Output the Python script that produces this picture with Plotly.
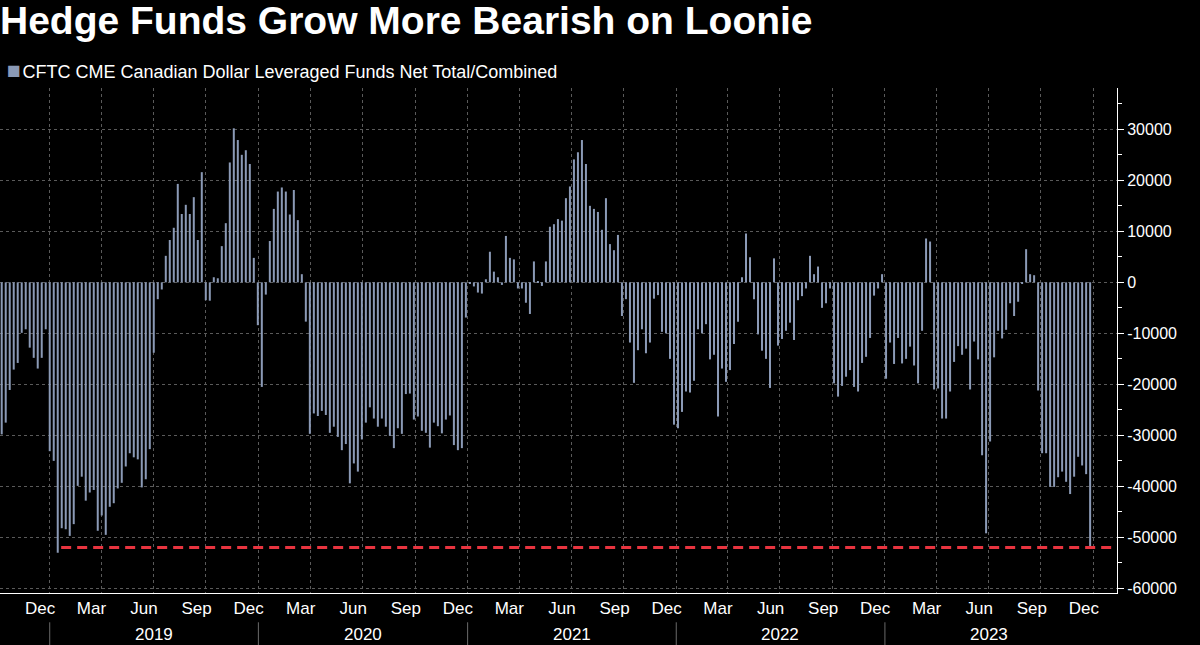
import pandas as pd
import plotly.graph_objects as go

# Weekly CFTC report dates (Tuesdays)
start_date = "2018-10-09"
n_weeks = 273

net_positions = [
    # 2018-10-09 ...
    -29800, -27500, -21100, -17100, -15800, -9900, -9200, -12800, -14800, -16900,
    -14800, -9200, -33100, -35000, -53000, -48200, -48400, -49700, -47400, -39900,
    -38100, -42800, -41200, -40700, -48700, -45700,
    -49500, -44000, -43300, -40400, -39300, -36100, -33500, -34300, -34700, -40200,
    -38600, -32700, -13800, -3300, -1400, 5200, 8300, 10700, 19300, 13400,
    15200, 13400, 16700, 8300, 21600,
    -3500, -3600, 1000, 800, 7100, 11600, 23500, 30200, 27900, 25000,
    25900, 23200, 4800, -8400, -20500, -2400, 8100, 14400, 17800, 18600,
    17800, 13300, 18100, 12200, 1600,
    -7700, -29700, -25700, -26200, -25200, -26000, -29500, -28300, -30300, -32900,
    -31700, -39400, -35500, -37100, -30800, -27500, -24500, -26700, -28300, -26700,
    -28300, -30100, -32500, -28600, -29700,
    -21900, -21800, -26900, -26300, -29100, -29500, -32400, -27500, -28200, -29600,
    -26900, -26100, -31900, -32900, -32500, -6900, -300, -800, -2000, -2200,
    600, 6000, 2100, 1000, -500,
    9100, 4800, 4500, -1200, -1200, -4000, -6200, 4100, 200, -700,
    4100, 10900, 11400, 12400, 12100, 16500, 18800, 24100, 25500, 27900,
    23200, 15000, 14400, 13800, 10300,
    16500, 7500, 6300, 9300, -6600, -3300, -11800, -19700, -13300, -9200,
    -13900, -11800, -3200, -2500, -9700, -10000, -15000, -27900, -28600, -25400,
    -21400, -21600, -19300, -9200, -10000,
    -8200, -15100, -14200, -26300, -16900, -19500, -17200, -12100, -7700, 1000,
    9600, 4900, -3300, -10200, -13400, -15000, -20700, 4700, -12400, -11100,
    -9500, -7900, -11300, -3500, -2700,
    -1200, 5200, 1600, 3100, -5000, -4100, -1200, -19800, -22400, -20300,
    -18500, -17200, -20500, -21400, -15800, -14600, -10900, -2600, -1200, 1600,
    -18900, -11800, -16000, -10900, -15900,
    -15000, -12600, -16300, -19800, -9500, 8600, 8000, -21000, -20800, -26700,
    -26700, -21400, -15600, -12500, -14200, -13000, -21000, -11600, -15100, -33900,
    -49200, -31200, -14700, -9500,
    -11000, -9300, -4100, -6600, -3800, -200, 6500, 1600, 1400, -21200,
    -33500, -33500, -40100, -40100, -38200, -37100, -39100, -41500, -38100, -34200,
    -35900, -37600, -52000,
]

series_name = "CFTC CME Canadian Dollar Leveraged Funds Net Total/Combined"
title_text = "Hedge Funds Grow More Bearish on Loonie"

month_labels = ["Dec", "Mar", "Jun", "Sep"]
month_numbers = [12, 3, 6, 9]
years = [2019, 2020, 2021, 2022, 2023]
y_ticks = [30000, 20000, 10000, 0, -10000, -20000, -30000, -40000, -50000, -60000]

x_range = ["2018-10-06", "2024-02-11"]
y_range = [-60900, 38100]

BAR_COLOR = "#8b9ab6"
GRID_COLOR = "#5a5a5a"
FONT = "Liberation Sans, Arial, sans-serif"

dates = pd.date_range(start_date, periods=n_weeks, freq="7D")

# month label positions (mid-month) and text
label_pairs = []
for yr in [2018] + years:
    for m, name in zip(month_numbers, month_labels):
        d = pd.Timestamp(year=yr, month=m, day=15)
        if pd.Timestamp(x_range[0]) < d < pd.Timestamp(x_range[1]):
            label_pairs.append((d, name))
label_pairs.sort()
label_vals = [p[0] for p in label_pairs]
label_text = [p[1] for p in label_pairs]

quarter_starts = [pd.Timestamp(year=yr, month=m, day=1)
                  for yr in years + [2024] for m in (1, 4, 7, 10)
                  if pd.Timestamp(year=yr, month=m, day=1) < pd.Timestamp(x_range[1])]

fig = go.Figure()
fig.add_trace(go.Bar(
    x=dates, y=net_positions, name=series_name,
    marker=dict(color=BAR_COLOR, line=dict(width=0)),
    showlegend=False,
))

# record-low reference line at latest value, from earlier low to end of chart
first_low_idx = min(range(60), key=lambda i: net_positions[i])
fig.add_trace(go.Scatter(
    x=[dates[first_low_idx] + pd.Timedelta(days=6), pd.Timestamp(x_range[1]) - pd.Timedelta(days=7)],
    y=[net_positions[-1], net_positions[-1]],
    mode="lines", line=dict(color="#e8343f", width=3, dash="10px,6px"),
    showlegend=False, hoverinfo="skip",
))

# legend key (series label)
fig.add_annotation(
    x=0, xref="paper", xshift=5, xanchor="left",
    y=1.0, yref="paper", yshift=18, yanchor="middle",
    text=f'<span style="color:{BAR_COLOR};font-size:23px">■</span>&#8202;{series_name}',
    showarrow=False, align="left",
    font=dict(family=FONT, size=18, color="white"),
)

# year labels and separators
for yr in years:
    fig.add_annotation(
        x=pd.Timestamp(year=yr, month=7, day=2), xref="x",
        y=-0.082, yref="paper", yanchor="middle",
        text=str(yr), showarrow=False,
        font=dict(family=FONT, size=17, color="white"),
    )
    fig.add_shape(
        type="line", xref="x", yref="paper",
        x0=pd.Timestamp(year=yr, month=1, day=1), x1=pd.Timestamp(year=yr, month=1, day=1),
        y0=-0.058, y1=-0.105, line=dict(color="#6a6a6a", width=1),
    )

fig.update_layout(
    width=1200, height=645,
    paper_bgcolor="black", plot_bgcolor="black",
    margin=dict(l=0, r=83, t=88, b=52, autoexpand=False),
    bargap=0.5,
    showlegend=False,
    title=dict(
        text=title_text, x=0.0, xanchor="left", xref="container",
        y=0.99, yanchor="top", yref="container",
        font=dict(family=FONT, size=39, color="white", weight="bold"),
    ),
    font=dict(family=FONT, color="white"),
    xaxis=dict(
        type="date", range=x_range,
        tickmode="array", tickvals=label_vals, ticktext=label_text,
        ticks="", showgrid=False,
        showline=True, linecolor="white", linewidth=1,
        tickfont=dict(family=FONT, size=17, color="white"),
        minor=dict(tickmode="array", tickvals=quarter_starts,
                   showgrid=True, gridcolor=GRID_COLOR, griddash="dot", gridwidth=1,
                   ticks=""),
        zeroline=False, automargin=False,
    ),
    yaxis=dict(
        side="right", range=y_range,
        tickmode="array", tickvals=y_ticks, ticktext=[str(v) for v in y_ticks],
        showgrid=True, gridcolor=GRID_COLOR, griddash="dot", gridwidth=1,
        ticks="outside", ticklen=6, tickcolor="white", tickwidth=1,
        showline=True, linecolor="white", linewidth=1,
        tickfont=dict(family=FONT, size=16, color="white"),
        minor=dict(tickmode="linear", tick0=0, dtick=5000, ticks="outside",
                   ticklen=4, tickcolor="white", showgrid=False),
        zeroline=False, automargin=False,
    ),
)

fig.write_html(
    "out.html",
    config={"displayModeBar": False},
    post_script="document.body.style.margin='0';document.body.style.background='black';document.body.style.overflow='hidden';",
)
